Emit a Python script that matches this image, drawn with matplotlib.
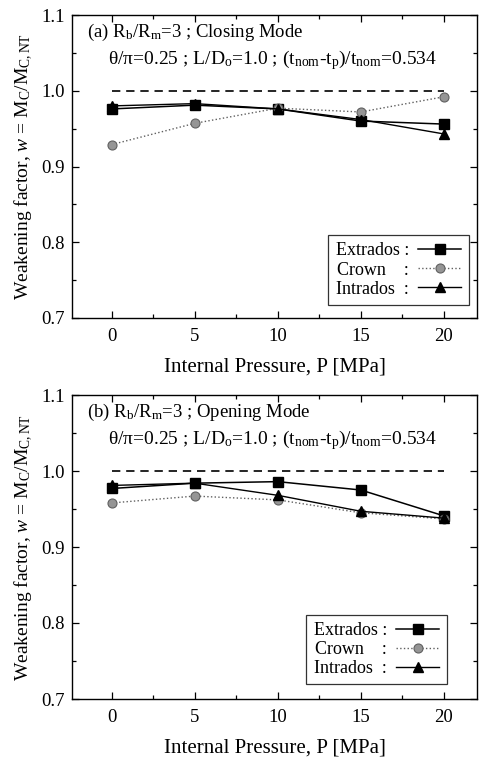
import matplotlib
matplotlib.use("Agg")
import matplotlib.pyplot as plt
from matplotlib.ticker import MultipleLocator

plt.rcParams['font.family'] = ['Liberation Serif', 'DejaVu Serif']
plt.rcParams['mathtext.fontset'] = 'custom'
plt.rcParams['mathtext.rm'] = 'Liberation Serif'
plt.rcParams['mathtext.it'] = 'Liberation Serif:italic'
plt.rcParams['mathtext.bf'] = 'Liberation Serif:bold'

pressure = [0, 5, 10, 15, 20]
xticks = [0, 5, 10, 15, 20]
yticks = [0.7, 0.8, 0.9, 1.0, 1.1]
ref_value = 1.0

# (a) Closing mode
closing_extrados = [0.976, 0.981, 0.976, 0.960, 0.956]
closing_crown = [0.929, 0.957, 0.977, 0.972, 0.992]
closing_intrados = [0.980, 0.983, 0.976, 0.962, 0.943]

# (b) Opening mode
opening_extrados = [0.977, 0.984, 0.986, 0.975, 0.941]
opening_crown = [0.958, 0.967, 0.962, 0.945, 0.937]
opening_intrados = [0.981, 0.984, 0.968, 0.947, 0.938]

titles = [r"(a) R$_\mathrm{b}$/R$_\mathrm{m}$=3 ; Closing Mode",
          r"(b) R$_\mathrm{b}$/R$_\mathrm{m}$=3 ; Opening Mode"]
subtitle = (r"$\mathrm{\theta}$/$\mathrm{\pi}$=0.25 ; L/D$_\mathrm{o}$=1.0 ; "
            r"(t$_\mathrm{nom}$-t$_\mathrm{p}$)/t$_\mathrm{nom}$=0.534")
xlabel = "Internal Pressure, P [MPa]"
ylabel = r"Weakening factor, $w$ = M$_\mathrm{C}$/M$_\mathrm{C,NT}$"
labels = ["Extrados :", "Crown    :", "Intrados  :"]

W, H = 483, 759
fig = plt.figure(figsize=(W / 100, H / 100), dpi=100)

panels = [
    (closing_extrados, closing_crown, closing_intrados, (72, 15, 477, 318),
     (322, 232, 475, 308)),
    (opening_extrados, opening_crown, opening_intrados, (72, 395, 477, 699),
     (300, 609, 453, 690)),
]

for i, (ext, crn, intr, box, lbox) in enumerate(panels):
    x0, y0, x1, y1 = box
    ax = fig.add_axes([x0 / W, 1 - y1 / H, (x1 - x0) / W, (y1 - y0) / H])
    ax.hlines(ref_value, pressure[0], pressure[-1], colors='black',
              linestyles=(0, (5, 3.5)), linewidth=1.2)
    l1, = ax.plot(pressure, ext, '-', color='black', lw=1.1, marker='s',
                  ms=6.5, mfc='black', mec='black')
    l2, = ax.plot(pressure, crn, ':', color='#606060', lw=1.0, marker='o',
                  ms=6.5, mfc='#959595', mec='#606060', mew=0.8)
    l3, = ax.plot(pressure, intr, '-', color='black', lw=1.0, marker='^',
                  ms=7.5, mfc='black', mec='black')
    ax.set_xlim(-2.4, 22.0)
    ax.set_ylim(0.7, 1.1)
    ax.set_xticks(xticks)
    ax.set_yticks(yticks)
    ax.xaxis.set_minor_locator(MultipleLocator(2.5))
    ax.yaxis.set_minor_locator(MultipleLocator(0.05))
    ax.tick_params(which='both', direction='in', top=True, right=True,
                   labelsize=13.5, width=0.9)
    ax.tick_params(which='major', length=5)
    ax.tick_params(which='minor', length=3)
    ax.tick_params(axis='x', pad=7)
    ax.tick_params(axis='y', pad=5)
    ax.set_yticklabels([f"{v:.1f}" for v in yticks])
    for s in ax.spines.values():
        s.set_linewidth(1.0)
    ax.set_xlabel(xlabel, fontsize=15, labelpad=9)
    ax.set_ylabel(ylabel, fontsize=14, labelpad=5)
    ax.text(0.037, 0.944, titles[i], transform=ax.transAxes, fontsize=13.5,
            va='center', ha='left')
    ax.text(0.088, 0.851, subtitle, transform=ax.transAxes, fontsize=14,
            va='center', ha='left')
    lx0, ly0, lx1, ly1 = lbox
    bb = ((lx0 - x0) / (x1 - x0), (y1 - ly1) / (y1 - y0),
          (lx1 - lx0) / (x1 - x0), (ly1 - ly0) / (y1 - y0))
    leg = ax.legend([l1, l2, l3], labels, loc='center', bbox_to_anchor=bb,
                    markerfirst=False, fontsize=13, frameon=True, fancybox=False,
                    edgecolor='black', handlelength=2.4, handletextpad=0.5,
                    labelspacing=0.12, borderpad=0.4, borderaxespad=0)
    leg.get_frame().set_linewidth(0.9)

fig.savefig("out.png", dpi=100)
